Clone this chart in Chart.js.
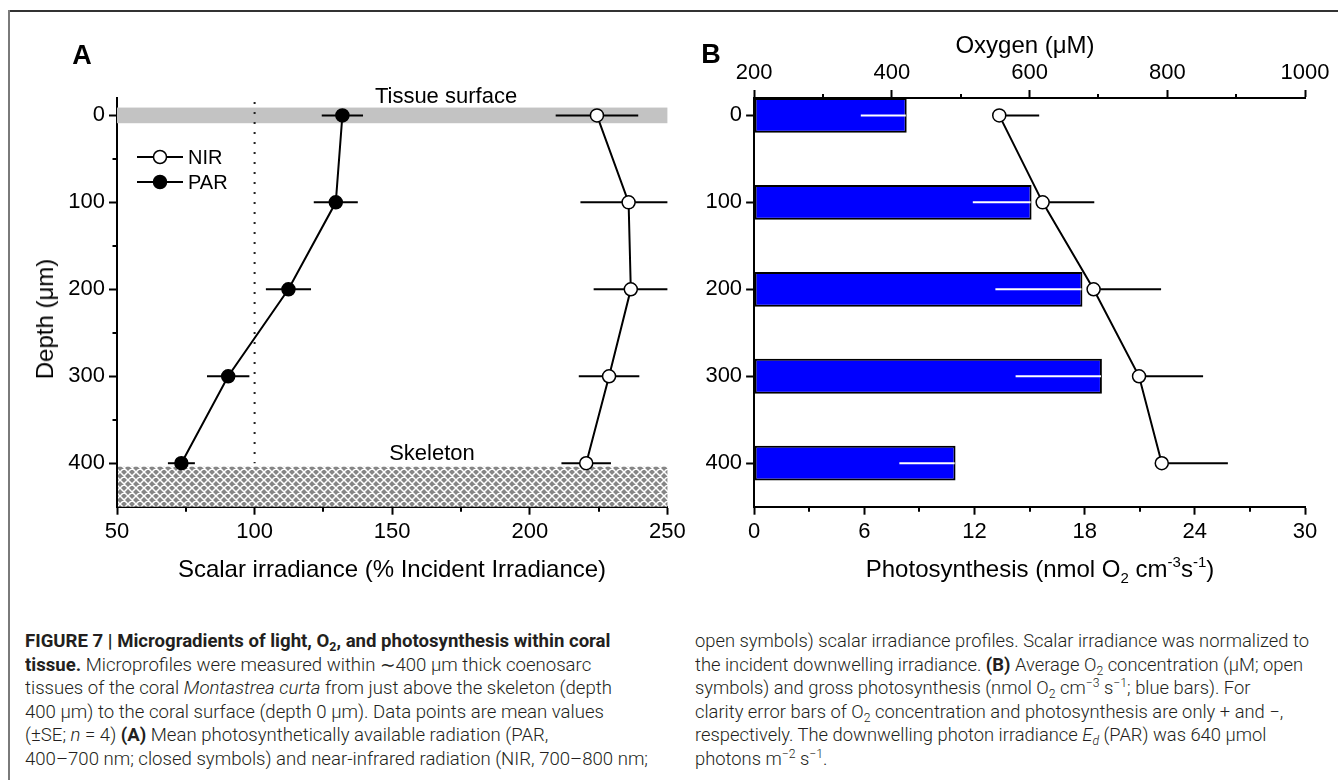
<!DOCTYPE html>
<html>
<head>
<meta charset="utf-8">
<script src="https://cdn.jsdelivr.net/npm/chart.js@4.4.0/dist/chart.umd.min.js"></script>
<style>
html,body{margin:0;padding:0;background:#fff;}
body{width:1338px;height:780px;position:relative;overflow:hidden;font-family:"Liberation Sans",Arial,sans-serif;color:#000;}
#frameTop{position:absolute;left:9px;top:10px;width:1329px;height:1.5px;background:#333;}
#frameLeft{position:absolute;left:8px;top:10px;width:2px;height:770px;background:#7a7a7a;}
canvas{position:absolute;top:0;}
#cA{left:0;}
#cB{left:690px;}
.lbl{position:absolute;white-space:nowrap;line-height:1;transform:translate(-50%,-50%);}
.ttl{font-size:24px;}
.ttl sub,.ttl sup{font-size:15px;line-height:0;}
.ttl sup{vertical-align:10px;}
.ttl sub{vertical-align:-6px;}
.panel{font-weight:bold;font-size:27px;}
.ann{font-size:22px;}
.col{position:absolute;top:629px;font-family:Roboto,"Liberation Sans",Arial,sans-serif;font-weight:300;font-size:18px;color:#231f20;transform-origin:0 0;}
.ln{display:block;width:max-content;white-space:nowrap;line-height:23.5px;height:23.5px;}
.col b{font-weight:700;}
.col sub,.col sup{font-size:12px;line-height:0;}
.col sub{vertical-align:-4px;}
.col sup{vertical-align:7px;}
</style>
</head>
<body>
<div id="frameTop"></div>
<div id="frameLeft"></div>
<canvas id="cA" width="690" height="600" style="width:690px;height:600px"></canvas>
<canvas id="cB" width="648" height="600" style="width:648px;height:600px"></canvas>

<div class="lbl panel" style="left:82px;top:55px">A</div>
<div class="lbl panel" style="left:711px;top:54px">B</div>
<div class="lbl ttl" style="left:45px;top:319px;transform:translate(-50%,-50%) rotate(-90deg)">Depth (μm)</div>
<div class="lbl ttl" style="left:392px;top:569px">Scalar irradiance (% Incident Irradiance)</div>
<div class="lbl ttl" style="left:1025px;top:45px">Oxygen (μM)</div>
<div class="lbl ttl" style="left:1040px;top:569px">Photosynthesis (nmol O<sub>2</sub> cm<sup>-3</sup>s<sup>-1</sup>)</div>
<div class="lbl ann" style="left:446px;top:96px">Tissue surface</div>
<div class="lbl ann" style="left:432px;top:453px">Skeleton</div>

<div class="col" id="colL" style="left:25px">
<div class="ln"><b>FIGURE 7 | Microgradients of light, O<sub>2</sub>, and photosynthesis within coral</b></div>
<div class="ln"><b>tissue.</b> Microprofiles were measured within ∼400 μm thick coenosarc</div>
<div class="ln">tissues of the coral <i>Montastrea curta</i> from just above the skeleton (depth</div>
<div class="ln">400 μm) to the coral surface (depth 0 μm). Data points are mean values</div>
<div class="ln">(±SE; <i>n</i> = 4) <b>(A)</b> Mean photosynthetically available radiation (PAR,</div>
<div class="ln" id="refL">400–700 nm; closed symbols) and near-infrared radiation (NIR, 700–800 nm;</div>
</div>
<div class="col" id="colR" style="left:695px">
<div class="ln" id="refR">open symbols) scalar irradiance profiles. Scalar irradiance was normalized to</div>
<div class="ln">the incident downwelling irradiance. <b>(B)</b> Average O<sub>2</sub> concentration (μM; open</div>
<div class="ln">symbols) and gross photosynthesis (nmol O<sub>2</sub> cm<sup>−3</sup> s<sup>−1</sup>; blue bars). For</div>
<div class="ln">clarity error bars of O<sub>2</sub> concentration and photosynthesis are only + and −,</div>
<div class="ln">respectively. The downwelling photon irradiance <i>E<sub>d</sub></i> (PAR) was 640 μmol</div>
<div class="ln">photons m<sup>−2</sup> s<sup>−1</sup>.</div>
</div>

<script>
// ---------- data ----------
const depths = [0, 100, 200, 300, 400];
const parMean = [131.9, 129.5, 112.3, 90.4, 73.4];
const parErr = [7.5, 8.0, 8.2, 7.7, 4.9];
const nirMean = [224.4, 235.9, 236.7, 228.8, 220.5];
const nirErr = [15.0, 17.5, 13.5, 11.0, 9.0];
const photoMean = [8.31, 15.11, 17.88, 18.94, 10.97];
const photoErr = [2.5, 3.2, 4.74, 4.7, 3.06];
const oxyMean = [556, 619, 693, 759, 792];
const oxyErr = [58, 75, 98, 93, 96];

const depthTicks = [0, 100, 200, 300, 400];
const depthMinor = [50, 150, 250, 350];
const irrTicks = [50, 100, 150, 200, 250];
const irrMinor = [75, 125, 175, 225];
const photoTicks = [0, 6, 12, 18, 24, 30];
const photoMinor = [3, 9, 15, 21, 27];
const oxyTicks = [200, 400, 600, 800, 1000];
const oxyMinor = [300, 500, 700, 900];

const depthRange = [-20, 450];
const irrRange = [50, 250];
const photoRange = [0, 30];
const oxyRange = [200, 1000];
const surfaceBand = [-9, 9];
const skeletonBand = [404, 450];
const incidentLine = 100;

// ---------- caption fit ----------
function fitCol(colId, refId, target){
  const w = document.getElementById(refId).getBoundingClientRect().width;
  document.getElementById(colId).style.transform = 'scaleX(' + (target / w) + ')';
}
fitCol('colL', 'refL', 623);
fitCol('colR', 'refR', 614);

// ---------- chart helpers ----------
Chart.defaults.font.family = '"Liberation Sans", Arial, sans-serif';
Chart.defaults.color = '#000';

function axis(ticksArr, range, extra, fitSize, horizontal){
  return Object.assign({
    type: 'linear',
    min: range[0], max: range[1],
    offset: false,
    afterBuildTicks: s => { s.ticks = ticksArr.map(v => ({value: v})); },
    afterFit: s => { if (horizontal) s.height = fitSize; else s.width = fitSize; },
    border: {display: true, color: '#000', width: 2},
    grid: {display: true, offset: false, drawOnChartArea: false, drawTicks: true, tickLength: 8, tickWidth: 2, tickColor: '#000', color: '#000'},
    ticks: {color: '#000', font: {size: 22}, padding: 4, autoSkip: false, maxRotation: 0, callback: v => String(v)}
  }, extra);
}

function hatch(ctx){
  const c = document.createElement('canvas'); c.width = 8; c.height = 8;
  const g = c.getContext('2d');
  g.fillStyle = '#868686'; g.fillRect(0, 0, 8, 8);
  g.strokeStyle = '#ffffff'; g.lineWidth = 1.5;
  g.beginPath();
  for (let k = -8; k <= 8; k += 8){
    g.moveTo(k, 0); g.lineTo(k + 8, 8);
    g.moveTo(k + 8, 0); g.lineTo(k, 8);
  }
  g.stroke();
  return ctx.createPattern(c, 'repeat');
}

function minorTicks(ctx, scale, values, pos, len){
  const ca = scale.chart.chartArea;
  ctx.save();
  ctx.strokeStyle = '#000'; ctx.lineWidth = 2;
  ctx.beginPath();
  values.forEach(v => {
    const p = Math.round(scale.getPixelForValue(v));
    if (pos === 'left'){ ctx.moveTo(ca.left - len, p); ctx.lineTo(ca.left, p); }
    else if (pos === 'bottom'){ ctx.moveTo(p, ca.bottom); ctx.lineTo(p, ca.bottom + len); }
    else if (pos === 'top'){ ctx.moveTo(p, ca.top); ctx.lineTo(p, ca.top - len); }
  });
  ctx.stroke();
  ctx.restore();
}

function hErr(ctx, xs, ys, lo, hi, d, color){
  const ca = xs.chart.chartArea;
  const y = ys.getPixelForValue(d);
  const a = Math.max(xs.getPixelForValue(lo), ca.left);
  const b = Math.min(xs.getPixelForValue(hi), ca.right);
  ctx.strokeStyle = color; ctx.lineWidth = 2;
  ctx.beginPath(); ctx.moveTo(a, y); ctx.lineTo(b, y); ctx.stroke();
}

// ---------- panel A ----------
const decorA = {
  id: 'decorA',
  beforeDatasetsDraw(chart){
    const {ctx, chartArea: ca, scales: {x, y}} = chart;
    ctx.save();
    const b1 = y.getPixelForValue(surfaceBand[0]), b2 = y.getPixelForValue(surfaceBand[1]);
    ctx.fillStyle = '#c3c3c3';
    ctx.fillRect(ca.left, b1, ca.right - ca.left, b2 - b1);
    const s1 = y.getPixelForValue(skeletonBand[0]), s2 = y.getPixelForValue(skeletonBand[1]);
    ctx.fillStyle = hatch(ctx);
    ctx.fillRect(ca.left + 1, s1, ca.right - ca.left - 1, s2 - s1);
    const xr = x.getPixelForValue(incidentLine);
    ctx.strokeStyle = '#222'; ctx.lineWidth = 2; ctx.setLineDash([2, 8]);
    ctx.beginPath(); ctx.moveTo(xr, ca.top + 4); ctx.lineTo(xr, y.getPixelForValue(depths[depths.length - 1])); ctx.stroke();
    ctx.setLineDash([]);
    depths.forEach((d, i) => {
      hErr(ctx, x, y, parMean[i] - parErr[i], parMean[i] + parErr[i], d, '#000');
      hErr(ctx, x, y, nirMean[i] - nirErr[i], nirMean[i] + nirErr[i], d, '#000');
    });
    ctx.restore();
  },
  afterDraw(chart){
    const {ctx, scales: {x, y}} = chart;
    minorTicks(ctx, y, depthMinor, 'left', 4.5);
    minorTicks(ctx, x, irrMinor, 'bottom', 5);
    // legend
    const rows = [{t: 'NIR', fill: '#fff', y: 157}, {t: 'PAR', fill: '#000', y: 182}];
    ctx.save();
    rows.forEach(r => {
      ctx.strokeStyle = '#000'; ctx.lineWidth = 2;
      ctx.beginPath(); ctx.moveTo(137, r.y); ctx.lineTo(183, r.y); ctx.stroke();
      ctx.beginPath(); ctx.arc(160, r.y, 6.5, 0, Math.PI * 2);
      ctx.fillStyle = r.fill; ctx.fill(); ctx.lineWidth = 1.5; ctx.stroke();
      ctx.fillStyle = '#000'; ctx.font = '20px "Liberation Sans", Arial, sans-serif';
      ctx.textBaseline = 'middle'; ctx.textAlign = 'left';
      ctx.fillText(r.t, 188, r.y + 1);
    });
    ctx.restore();
  }
};

new Chart(document.getElementById('cA'), {
  type: 'scatter',
  data: {
    datasets: [
      {label: 'NIR', data: depths.map((d, i) => ({x: nirMean[i], y: d})), showLine: true,
       borderColor: '#000', borderWidth: 2, pointRadius: 6.5, pointBackgroundColor: '#fff',
       pointBorderColor: '#000', pointBorderWidth: 1.5, tension: 0},
      {label: 'PAR', data: depths.map((d, i) => ({x: parMean[i], y: d})), showLine: true,
       borderColor: '#000', borderWidth: 2, pointRadius: 6.5, pointBackgroundColor: '#000',
       pointBorderColor: '#000', pointBorderWidth: 1.5, tension: 0}
    ]
  },
  options: {
    responsive: false, animation: false, events: [],
    layout: {padding: {left: 0, right: 22.6, top: 98, bottom: 0}},
    plugins: {legend: {display: false}, tooltip: {enabled: false}},
    scales: {
      x: axis(irrTicks, irrRange, {position: 'bottom'}, 93.3, true),
      y: axis(depthTicks, depthRange, {position: 'left', reverse: true}, 117, false)
    }
  },
  plugins: [decorA]
});

// ---------- panel B ----------
const decorB = {
  id: 'decorB',
  afterDatasetDraw(chart, args){
    if (args.meta.type !== 'bar') return;
    const {ctx, scales: {x, x2, y}} = chart;
    ctx.save();
    depths.forEach((d, i) => {
      hErr(ctx, x, y, photoMean[i] - photoErr[i], photoMean[i] - 0.05, d, '#fff');
      hErr(ctx, x2, y, oxyMean[i], oxyMean[i] + oxyErr[i], d, '#000');
    });
    ctx.restore();
  },
  afterDraw(chart){
    const {ctx, scales: {x, x2}} = chart;
    minorTicks(ctx, x, photoMinor, 'bottom', 5);
    minorTicks(ctx, x2, oxyMinor, 'top', 4);
  }
};

new Chart(document.getElementById('cB'), {
  type: 'bar',
  data: {
    datasets: [
      {type: 'line', label: 'Oxygen', data: depths.map((d, i) => ({x: oxyMean[i], y: d})),
       xAxisID: 'x2', yAxisID: 'y', borderColor: '#000', borderWidth: 2, pointRadius: 6.5,
       pointBackgroundColor: '#fff', pointBorderColor: '#000', pointBorderWidth: 1.5, tension: 0, fill: false},
      {type: 'bar', label: 'Photosynthesis', data: depths.map((d, i) => ({x: photoMean[i], y: d})),
       xAxisID: 'x', yAxisID: 'y', backgroundColor: '#0000ff', borderColor: '#000', borderWidth: 2,
       borderSkipped: false, barPercentage: 0.4, categoryPercentage: 1}
    ]
  },
  options: {
    indexAxis: 'y',
    responsive: false, animation: false, events: [],
    layout: {padding: {left: 0, right: 33, top: 0, bottom: 0}},
    plugins: {legend: {display: false}, tooltip: {enabled: false}},
    scales: {
      x: axis(photoTicks, photoRange, {position: 'bottom'}, 93.3, true),
      x2: axis(oxyTicks, oxyRange, {position: 'top', axis: 'x'}, 98, true),
      y: axis(depthTicks, depthRange, {position: 'left', reverse: true}, 64.1, false)
    }
  },
  plugins: [decorB]
});
</script>
</body>
</html>
